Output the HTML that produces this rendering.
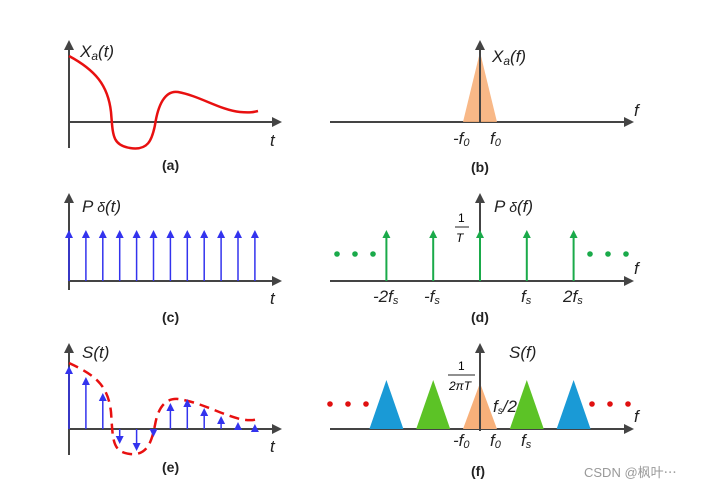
<!DOCTYPE html>
<html><head><meta charset="utf-8"><style>
body{margin:0;background:#fff;width:702px;height:489px;overflow:hidden}
text{font-family:"Liberation Sans",sans-serif}
.it{font-style:italic;font-size:17px;fill:#222}
.cap{font-weight:bold;font-size:14px;fill:#222}
.ax{stroke:#444;stroke-width:2;fill:none}
</style></head><body>
<svg id="s" width="702" height="489">
<defs><marker id="ah" markerWidth="10" markerHeight="10" refX="8" refY="5" orient="auto" markerUnits="userSpaceOnUse"><path d="M0,0 L10,5 L0,10 z" fill="#444"/></marker></defs>
<g>
<line class="ax" x1="69" y1="148" x2="69" y2="42" marker-end="url(#ah)"/>
<line class="ax" x1="69" y1="122" x2="280" y2="122" marker-end="url(#ah)"/>
<path d="M69,56 C95,70 108,85 111,112 C113,135 112,145 130,148 C148,151 152,140 155,125 C158,105 165,90 178,92 C200,96 220,110 240,112 C250,113 254,112 258,111" stroke="#e81010" stroke-width="2.5" fill="none"/>
<text class="it" x="80" y="57">X<tspan font-size="12" dy="3">a</tspan><tspan dy="-3">(t)</tspan></text>
<text class="it" x="270" y="146">t</text>
<text class="cap" x="162" y="170">(a)</text></g>
<g>
<line class="ax" x1="330" y1="122" x2="632" y2="122" marker-end="url(#ah)"/>
<polygon points="463,122 480,52 497,122" fill="#f7b07a" opacity="0.9"/>
<line class="ax" x1="480" y1="122" x2="480" y2="42" marker-end="url(#ah)"/>
<text class="it" x="492" y="62">X<tspan font-size="12" dy="3">a</tspan><tspan dy="-3">(f)</tspan></text>
<text class="it" x="634" y="116">f</text>
<text class="it" x="453" y="144" font-size="14">-f<tspan font-size="11" dy="2">0</tspan></text>
<text class="it" x="490" y="144" font-size="14">f<tspan font-size="11" dy="2">0</tspan></text>
<text class="cap" x="471" y="172">(b)</text></g>
<g id="gc">
<line class="ax" x1="69" y1="290" x2="69" y2="195" marker-end="url(#ah)"/>
<line class="ax" x1="69" y1="281" x2="280" y2="281" marker-end="url(#ah)"/>
<text class="it" x="82" y="212">P<tspan font-size="14"> δ</tspan>(t)</text>
<text class="it" x="270" y="304">t</text>
<text class="cap" x="162" y="322">(c)</text></g>
<g id="gd">
<line class="ax" x1="330" y1="281" x2="632" y2="281" marker-end="url(#ah)"/>
<line class="ax" x1="480" y1="281" x2="480" y2="195" marker-end="url(#ah)"/>
<text class="it" x="494" y="212">P<tspan font-size="14"> δ</tspan>(f)</text>
<text x="458" y="222" font-size="12" font-family="Liberation Serif">1</text>
<line x1="455" y1="227" x2="469" y2="227" stroke="#222"/>
<text x="456" y="242" font-size="12" font-style="italic" font-family="Liberation Serif">T</text>
<text class="it" x="634" y="274">f</text>
<text class="it" x="373" y="302" font-size="14">-2f<tspan font-size="11" dy="2">s</tspan></text>
<text class="it" x="424" y="302" font-size="14">-f<tspan font-size="11" dy="2">s</tspan></text>
<text class="it" x="521" y="302" font-size="14">f<tspan font-size="11" dy="2">s</tspan></text>
<text class="it" x="563" y="302" font-size="14">2f<tspan font-size="11" dy="2">s</tspan></text>
<text class="cap" x="471" y="322">(d)</text></g>
<g id="ge">
<line class="ax" x1="69" y1="455" x2="69" y2="345" marker-end="url(#ah)"/>
<line class="ax" x1="69" y1="429" x2="280" y2="429" marker-end="url(#ah)"/>
<path d="M69,363 C95,375 108,385 111,412 C113,440 112,452 130,454 C148,456 152,440 155,425 C158,408 165,398 178,399 C200,402 220,414 240,419 C250,421 254,420 258,419" stroke="#e81010" stroke-width="2.5" fill="none" stroke-dasharray="10,6"/>
<text class="it" x="82" y="358">S(t)</text>
<text class="it" x="270" y="452">t</text>
<text class="cap" x="162" y="472">(e)</text></g>
<g id="gf">
<line class="ax" x1="330" y1="429" x2="632" y2="429" marker-end="url(#ah)"/>
<text class="it" x="509" y="358">S(f)</text>
<text x="458" y="370" font-size="12" font-family="Liberation Serif">1</text>
<line x1="448" y1="375" x2="475" y2="375" stroke="#222"/>
<text x="449" y="390" font-size="12" font-style="italic" font-family="Liberation Serif">2πT</text>
<text class="it" x="634" y="422">f</text>
<text class="it" x="493" y="412" font-size="13">f<tspan font-size="10" dy="2">s</tspan><tspan dy="-2">/2</tspan></text>
<text class="it" x="453" y="446" font-size="14">-f<tspan font-size="11" dy="2">0</tspan></text>
<text class="it" x="490" y="446" font-size="14">f<tspan font-size="11" dy="2">0</tspan></text>
<text class="it" x="521" y="446" font-size="14">f<tspan font-size="11" dy="2">s</tspan></text>
<text class="cap" x="471" y="476">(f)</text></g>
<text x="584" y="477" font-size="13" fill="#999" font-family="Liberation Sans, Noto Sans CJK SC, sans-serif">CSDN @枫叶⋯</text>
</svg>
<script>
const sampleCount = [0,1,2,3,4,5,6,7,8,9,10,11];
const sampleValues = [63,52,36,-15,-22,-8,26,30,21,13,7,5];
const dHarmonics = [-2,-1,0,1,2];
const fReplicas = [-2,-1,0,1,2];
const fColors = ['#1a9ad6','#5cc326','#f7b07a','#5cc326','#1a9ad6'];
const NS='http://www.w3.org/2000/svg';
function mk(t,a,p){const e=document.createElementNS(NS,t);for(const k in a)e.setAttribute(k,a[k]);p.appendChild(e);return e;}
const tx=k=>69+k*16.9, fx=h=>480+h*46.8;
function arrow(p,x,y0,y1,c,w){
 const l=mk('line',{x1:x,y1:y0,x2:x,y2:y1+(y1<y0?6:-6),stroke:c,'stroke-width':w},p);
 const d=y1<y0?1:-1;
 mk('polygon',{points:`${x-4},${y1+8*d} ${x},${y1} ${x+4},${y1+8*d}`,fill:c},p);return l;}
const gc=document.getElementById('gc'),gd=document.getElementById('gd'),ge=document.getElementById('ge'),gf=document.getElementById('gf');
sampleCount.forEach(k=>{const g=mk('g',{},gc);


arrow(g,tx(k),281,230,'#3333ee',1.5);});
dHarmonics.forEach(h=>{const g=mk('g',{},gd);


arrow(g,fx(h),281,230,'#1aaa4a',2);});
[[337,355,373],[590,608,626]].forEach(a=>a.forEach(x=>{const c=mk('circle',{cx:x,cy:254,r:2.8,fill:'#1aaa4a'},gd);

}));
sampleValues.forEach((v,k)=>{const g=mk('g',{},ge);


arrow(g,tx(k),429,429-v,'#3333ee',1.5);});
fReplicas.forEach((h,i)=>{const x=fx(h),hw=17;
const p=mk('polygon',{points:`${x-hw},429 ${x},${h==0?383:380} ${x+hw},429`,fill:fColors[i]},gf);

});
mk('line',{x1:480,y1:431,x2:480,y2:345,stroke:'#444','stroke-width':2,'marker-end':'url(#ah)'},gf);
[[330,348,366],[592,610,628]].forEach(a=>a.forEach(x=>{const c=mk('circle',{cx:x,cy:404,r:2.8,fill:'#e01010'},gf);

}));
</script>
</body></html>
